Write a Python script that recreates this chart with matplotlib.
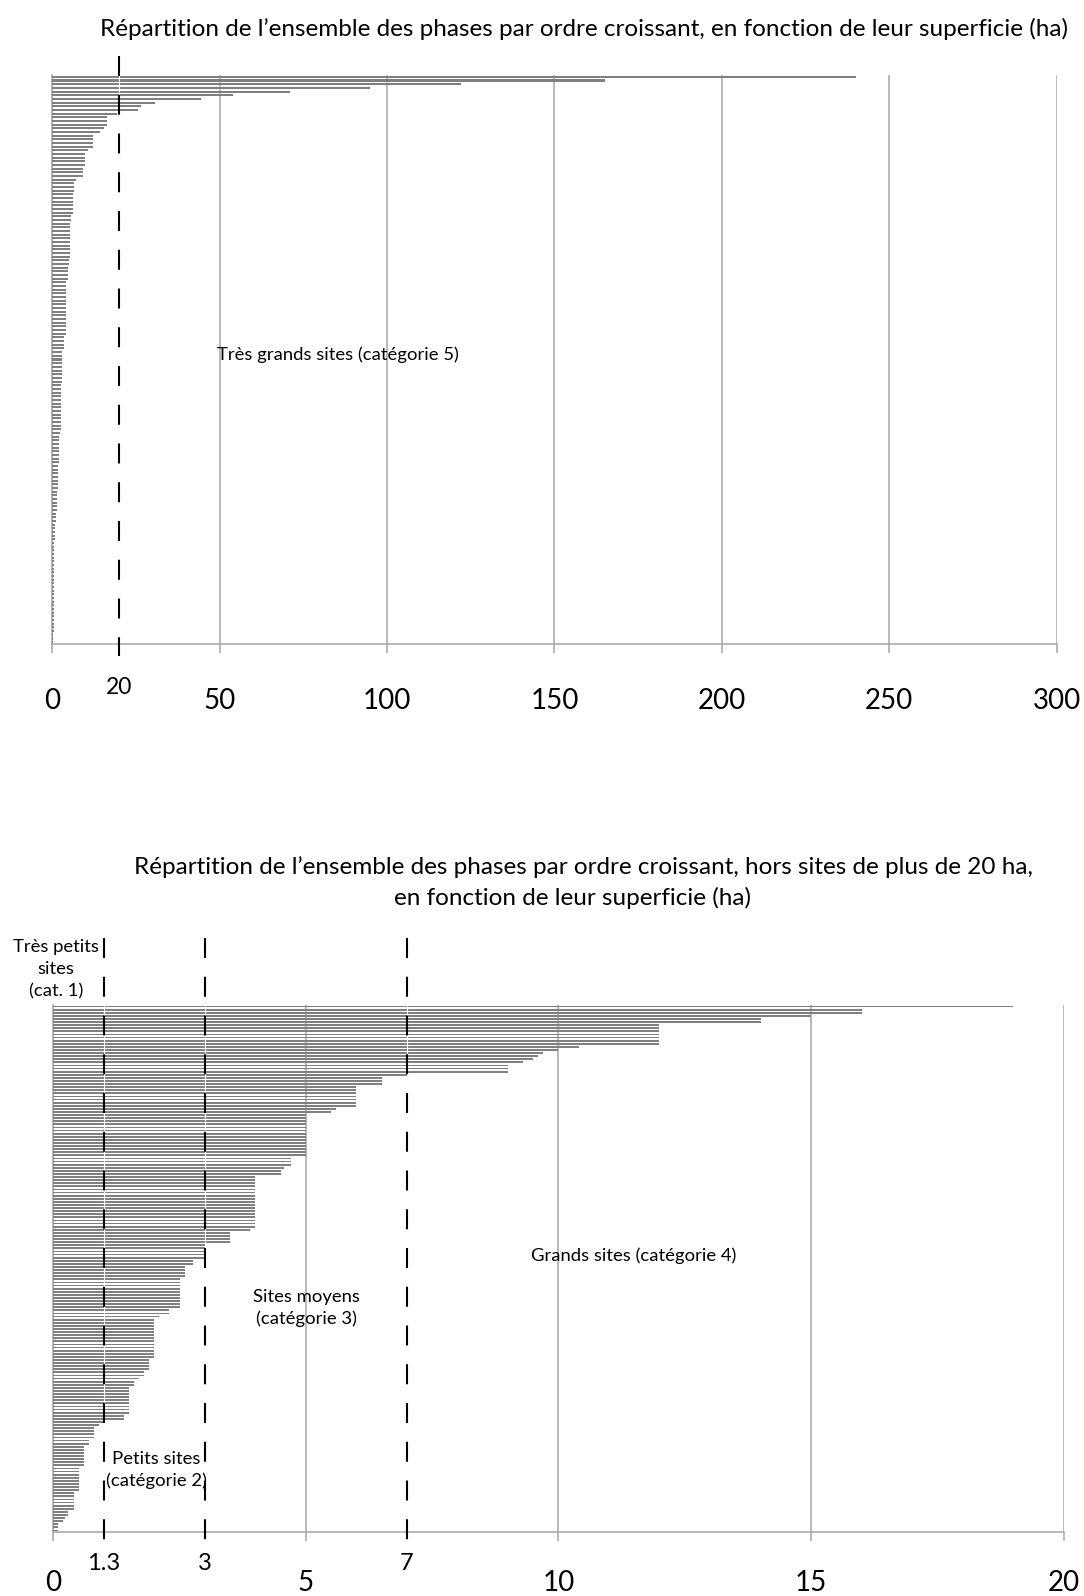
import matplotlib
matplotlib.use('Agg')
import numpy as np
import matplotlib.pyplot as plt
import matplotlib.transforms as mtransforms

plt.rcParams['font.family'] = ['Lato', 'DejaVu Sans']

# superficies (ha), du haut vers le bas du graphique
all_phases = [240, 165, 122, 95, 71, 54, 44.5, 30.6, 26.5, 25.5, 19.4,
              16.3, 16.3, 16.3, 15.3, 14.2, 12.2, 12.2, 12.2, 12.2, 10.6,
              9.8, 9.8, 9.7, 9.7, 9.2, 9.2, 9.2, 7.2, 6.6, 6.6, 6.6,
              6.2, 6.2, 6.2, 6.2, 6.2, 6.2, 5.7, 5.5,
              5.2, 5.2, 5.2, 5.2, 5.2, 5.2, 5.2, 5.2, 5.2, 5.2,
              4.9, 4.9, 4.7, 4.7, 4.7, 4.7, 4.2, 4.1,
              4.0, 4.0, 4.0, 4.0, 4.0, 4.0, 4.0, 4.0, 4.0, 4.0, 4.0, 4.0, 4.0,
              3.6, 3.6, 3.6, 3.6, 3.0, 3.0,
              2.8, 2.8, 2.8, 2.8, 2.8, 2.8, 2.8, 2.7, 2.7, 2.7, 2.7, 2.7, 2.7, 2.7,
              2.6, 2.6, 2.6, 2.6, 2.6, 2.6,
              2.2, 2.1, 2.0, 2.0, 2.0,
              1.9, 1.9, 1.9, 1.9, 1.8, 1.8, 1.8,
              1.6, 1.6, 1.6, 1.6, 1.5, 1.5, 1.5,
              1.3, 1.3, 1.3, 1.2, 1.2, 1.2,
              0.9, 0.8, 0.8, 0.7, 0.7, 0.6, 0.6, 0.6,
              0.5, 0.5, 0.5, 0.5, 0.5, 0.5, 0.5, 0.5,
              0.45, 0.45, 0.45, 0.45, 0.45, 0.45, 0.45, 0.45,
              0.4, 0.4, 0.4, 0.4, 0.4, 0.4, 0.35, 0.35, 0.3]

under_20 = [19, 16, 16, 15, 14, 14, 12, 12, 12, 12, 12, 12, 12, 10.4, 10, 9.7, 9.6, 9.5,
            9.3, 9.0, 9.0, 9.0,
            7.0,
            6.5, 6.5, 6.5,
            6.0, 6.0, 6.0, 6.0, 6.0, 6.0, 6.0,
            5.6, 5.5,
            5.0, 5.0, 5.0, 5.0, 5.0, 5.0, 5.0, 5.0, 5.0, 5.0, 5.0, 5.0, 5.0, 5.0,
            4.7, 4.7, 4.7, 4.57, 4.5, 4.5,
            4.0, 4.0, 4.0, 4.0, 4.0, 4.0, 4.0, 4.0, 4.0, 4.0,
            4.0, 4.0, 4.0, 4.0, 4.0, 4.0, 4.0, 3.9,
            3.5, 3.5, 3.5, 3.5,
            3.0, 3.0, 3.0, 3.0, 3.0,
            2.76, 2.76, 2.6, 2.6, 2.6, 2.6,
            2.5, 2.5, 2.5, 2.5, 2.5, 2.5, 2.5, 2.5, 2.5, 2.5,
            2.3, 2.3, 2.1,
            2.0, 2.0, 2.0, 2.0, 2.0, 2.0, 2.0, 2.0, 2.0, 2.0, 2.0, 2.0, 2.0,
            1.9, 1.9, 1.9, 1.9, 1.8, 1.8, 1.7, 1.6, 1.6,
            1.5, 1.5, 1.5, 1.5, 1.5, 1.5, 1.5, 1.5, 1.5, 1.4, 1.4, 1.0,
            0.9, 0.8, 0.8, 0.8, 0.8, 0.7, 0.7,
            0.6, 0.6, 0.6, 0.6, 0.6, 0.6, 0.6,
            0.5, 0.5, 0.5, 0.5, 0.5, 0.5, 0.5, 0.5,
            0.4, 0.4, 0.4, 0.4, 0.4, 0.4, 0.3, 0.3, 0.23, 0.2, 0.1, 0.1, 0.1]

top_ticks = [0, 50, 100, 150, 200, 250, 300]
bottom_ticks = [0, 5, 10, 15, 20]
# seuils : (position du trait, texte)
seuil_top = [(20, '20')]
seuils_bottom = [(1.0, '1.3'), (3, '3'), (7, '7')]

W, H = 1084, 1596
grey = '#a6a6a6'
bar_col = '#808080'


def fy(px):
    return 1 - px / H


def setup(ax, vals, ticks, pad):
    n = len(vals)
    ax.barh(np.arange(n), vals, height=0.55, color=bar_col, zorder=2)
    ax.set_ylim(n - 0.5, -0.5)
    ax.set_xlim(ticks[0], ticks[-1])
    ax.set_xticks(ticks)
    ax.set_yticks([])
    ax.grid(axis='x', color=grey, lw=1.1, zorder=1)
    for s in ['top', 'right']:
        ax.spines[s].set_visible(False)
    for s in ['left', 'bottom']:
        ax.spines[s].set_color(grey)
        ax.spines[s].set_linewidth(1.1)
        ax.spines[s].set_zorder(1.5)
    ax.tick_params(axis='x', direction='out', length=6.5, width=1.1, color=grey,
                   labelsize=20, pad=pad)


def dash(ax, x, y0, y1):
    tr = mtransforms.blended_transform_factory(ax.transData, ax.figure.transFigure)
    ax.plot([x, x], [fy(y0 - 5), fy(y1)], transform=tr, color='white', lw=0.8,
            clip_on=False, zorder=3)
    ax.plot([x, x], [fy(y0), fy(y1)], transform=tr, color='black', lw=1.5,
            ls=(0, (9.6, 9.0)), clip_on=False, zorder=4)


fig = plt.figure(figsize=(W / 100, H / 100), dpi=100)

# graphique du haut
ax1 = fig.add_axes([52.3 / W, fy(644), (1056.5 - 52.3) / W, (644 - 75) / H])
setup(ax1, all_phases, top_ticks, 25)
fig.text(584 / W, fy(29), 'Répartition de l’ensemble des phases par ordre croissant, en fonction de leur superficie (ha)',
         ha='center', va='center', fontsize=17.5)
tr1 = mtransforms.blended_transform_factory(ax1.transData, fig.transFigure)
for x, lab in seuil_top:
    dash(ax1, x, 56, 656)
    ax1.text(x, fy(687), lab, transform=tr1, ha='center', va='center', fontsize=16.5)
ax1.text(217 / W, fy(355), 'Très grands sites (catégorie 5)', transform=fig.transFigure,
         ha='left', va='center', fontsize=13.3)

# graphique du bas
ax2 = fig.add_axes([53.3 / W, fy(1532), (1063.6 - 53.3) / W, (1532 - 1005) / H])
setup(ax2, under_20, bottom_ticks, 21)
fig.text(583 / W, fy(867), 'Répartition de l’ensemble des phases par ordre croissant, hors sites de plus de 20 ha,',
         ha='center', va='center', fontsize=17.5)
fig.text(572.5 / W, fy(898), 'en fonction de leur superficie (ha)', ha='center', va='center', fontsize=17.5)
tr2 = mtransforms.blended_transform_factory(ax2.transData, fig.transFigure)
for x, lab in seuils_bottom:
    dash(ax2, x, 938, 1545)
    ax2.text(x, fy(1564), lab, transform=tr2, ha='center', va='center', fontsize=17)

fig.text(56 / W, fy(969), 'Très petits\nsites\n(cat. 1)', ha='center', va='center',
         fontsize=13.3, linespacing=1.45)
fig.text(306 / W, fy(1308), 'Sites moyens\n(catégorie 3)', ha='center', va='center',
         fontsize=13.3, linespacing=1.45)
fig.text(634 / W, fy(1256), 'Grands sites (catégorie 4)', ha='center', va='center', fontsize=13.3)
fig.text(156 / W, fy(1470), 'Petits sites\n(catégorie 2)', ha='center', va='center',
         fontsize=13.3, linespacing=1.45)

fig.savefig('out.png', dpi=100)
